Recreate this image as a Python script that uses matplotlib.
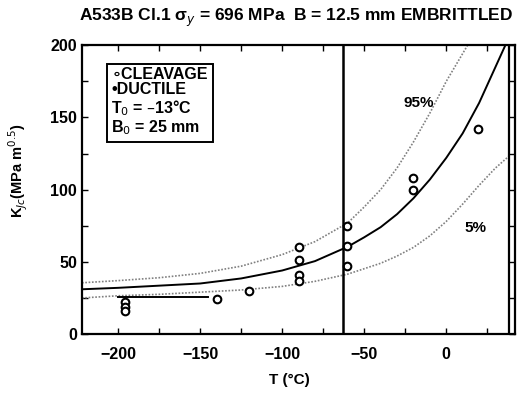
#!/usr/bin/env python3
import matplotlib
matplotlib.use('Agg')
import matplotlib.pyplot as plt

plt.rcParams['font.family'] = ['Liberation Sans', 'DejaVu Sans']

# curves (T in C, K_Jc in MPa m^0.5)
t_med = [-222, -200, -175, -150, -125, -100, -80, -60, -50, -40, -30, -20, -10, 0, 10, 20, 30, 36]
k_med = [31, 32, 33.5, 35, 38.5, 44, 50.5, 60.5, 67, 74, 83, 94, 107, 122, 139, 160, 185, 200]

t_95 = [-222, -200, -175, -150, -125, -100, -80, -60, -50, -40, -30, -20, -10, 0, 13]
k_95 = [35.5, 37, 39, 42, 47, 55, 64, 77, 88, 100, 115, 133, 153, 175, 200]

t_05 = [-222, -200, -175, -150, -125, -100, -80, -60, -40, -30, -20, -10, 0, 10, 20, 30, 38]
k_05 = [25, 26.5, 27.5, 29, 30.5, 33, 36.5, 41.5, 49, 54, 60, 68, 78, 90, 103, 115, 123]

# short lower-shelf segment
t_shelf = [-200, -145]
k_shelf = [25.5, 25.5]

# test data
t_data = [-196, -196, -196, -140, -120, -90, -90, -90, -90, -60.5, -60.5, -60.5, -20, -20, 19.5]
k_data = [22, 19, 16, 24, 30, 60, 51, 41, 37, 75, 61, 47, 108, 100, 142]

t_vline = -63
t_right = 38

fig = plt.figure(figsize=(5.22, 3.93), dpi=100)
ax = fig.add_axes([0.157, 0.150, 0.830, 0.735])

ax.plot(t_95, k_95, color='#808080', lw=1.2, ls=(0, (1, 1)))
ax.plot(t_05, k_05, color='#808080', lw=1.2, ls=(0, (1, 1)))
ax.plot(t_med, k_med, color='black', lw=1.4)
ax.plot(t_shelf, k_shelf, color='black', lw=1.4)
ax.plot(t_data, k_data, 'o', mfc='white', mec='black', mew=1.5, ms=5.5)

ax.axvline(t_vline, color='black', lw=1.8)
ax.axvline(t_right, color='black', lw=1.6)

ax.set_xlim(-222, 42)
ax.set_ylim(0, 200)
ax.set_xticks([-200, -150, -100, -50, 0])
ax.set_xticks(range(-200, 41, 25), minor=True)
ax.set_yticks([0, 50, 100, 150, 200])
ax.set_yticks(range(0, 201, 25), minor=True)
ax.tick_params(direction='in', top=True, right=True, which='both', length=4, width=1,
               labelsize=11.5)
for lab in ax.get_xticklabels() + ax.get_yticklabels():
    lab.set_fontweight('bold')
ax.tick_params(axis='x', pad=9)
for s in ax.spines.values():
    s.set_linewidth(1.6)

ax.text(-16.5, 160, '95%', fontsize=11, fontweight='bold', ha='center', va='center')
ax.text(17.7, 73.5, '5%', fontsize=11, fontweight='bold', ha='center', va='center')

legend_text = ('\u2218CLEAVAGE\n\u2022DUCTILE\n'
               'T$_0$ = \u201313\u00b0C\nB$_0$ = 25 mm')
ax.text(-204, 185, legend_text, fontsize=11.5, fontweight='bold', ha='left', va='top',
        linespacing=1.05,
        bbox=dict(boxstyle='square,pad=0.3', fc='white', ec='black', lw=1.4))

fig.text(0.568, 0.955, 'A533B Cl.1 \u03c3$_y$ = 696 MPa  B = 12.5 mm EMBRITTLED',
         ha='center', va='center', fontsize=12.5, fontweight='bold')
fig.text(0.555, 0.033, 'T (\u00b0C)', ha='center', va='center', fontsize=11,
         fontweight='bold')
fig.text(0.035, 0.565, 'K$_{Jc}$(MPa m$^{0.5}$)', ha='center', va='center',
         rotation=90, fontsize=10.5, fontweight='bold')

fig.savefig('out.png', dpi=100)
